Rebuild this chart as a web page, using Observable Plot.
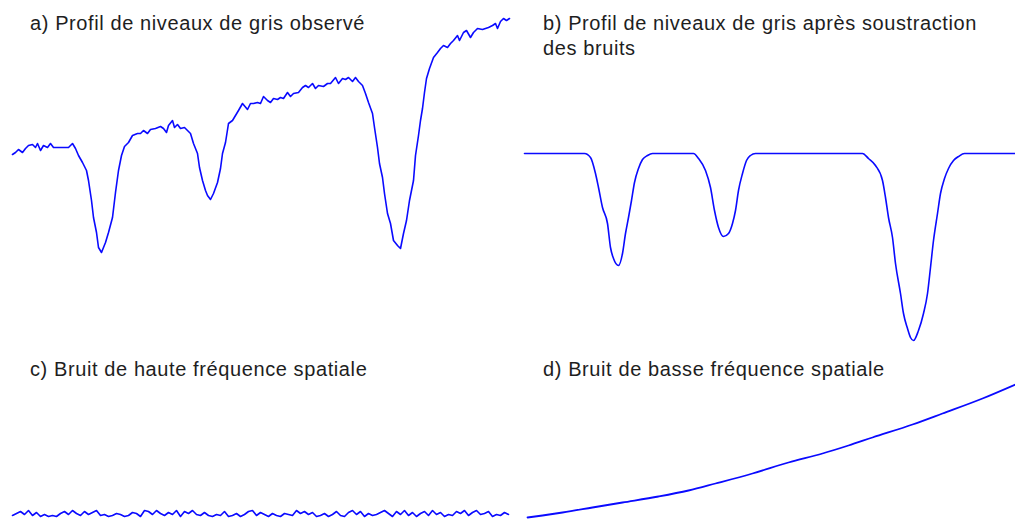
<!DOCTYPE html>
<html>
<head>
<meta charset="utf-8">
<script src="https://cdn.jsdelivr.net/npm/d3@7"></script>
<script src="https://cdn.jsdelivr.net/npm/@observablehq/plot@0.6"></script>
<style>
  html, body { margin: 0; padding: 0; background: #fff; }
  #wrap { position: relative; width: 1015px; height: 519px; overflow: hidden; }
  .panel { position: absolute; }
  .panel svg { overflow: visible; display: block; }
  .title { position: absolute; font-family: "Liberation Sans", Arial, sans-serif; font-size: 20px;
           letter-spacing: 0.6px; line-height: 25px; color: #1e1e1e; white-space: pre; }
</style>
</head>
<body>
<div id="wrap"></div>
<script>
// ---- Titles ----
const titles = [
  "a) Profil de niveaux de gris observé",
  "b) Profil de niveaux de gris après soustraction\ndes bruits",
  "c) Bruit de haute fréquence spatiale",
  "d) Bruit de basse fréquence spatiale"
];

// ---- a) observed grey-level profile: [position (px), grey level] ----
const profilObserve = [
  [0,106],[3,108],[6,111],[10,108],[13,112],[16,115],[20,116],[23,113],[25,117],[28,110],
  [31,115],[35,113],[38,117],[41,113],[46,113],[51,113],[56,113],[60,117],[63,112],[66,105],
  [70,98],[74,90],[76,80],[79,60],[81,43],[84,28],[86,13],[89,8],[93,18],[96,28],
  [100,43],[103,68],[106,90],[109,105],[112,114],[116,118],[120,125],[125,127],[128,127],[131,130],
  [135,127],[138,131],[143,132],[148,134],[151,132],[154,128],[156,135],[160,140],[162,133],[165,136],
  [168,132],[172,133],[175,130],[178,127],[181,117],[185,107],[187,93],[190,80],[193,70],[195,65],
  [198,61],[201,67],[205,78],[208,92],[210,107],[213,118],[216,137],[220,140],[223,145],[226,150],
  [230,157],[235,151],[238,157],[241,157],[245,158],[248,157],[251,164],[255,160],[258,158],[261,162],
  [265,161],[268,163],[271,162],[275,168],[278,164],[281,167],[286,168],[290,173],[293,175],[296,173],
  [300,177],[303,172],[306,175],[311,174],[315,177],[318,177],[323,183],[326,177],[330,182],[333,181],
  [336,183],[340,179],[343,183],[346,179],[350,175],[353,167],[356,158],[360,147],[362,133],[365,113],
  [367,97],[370,83],[372,67],[375,47],[378,37],[381,20],[385,15],[388,12],[391,27],[394,40],
  [397,60],[401,80],[403,105],[406,125],[408,140],[410,152],[412,168],[414,182],[417,192],[421,203],
  [425,208],[428,212],[431,215],[435,213],[438,217],[441,220],[445,225],[447,220],[451,228],[454,230],
  [458,223],[461,228],[465,232],[470,231],[473,232],[476,233],[480,235],[483,237],[485,232],[488,239],
  [491,242],[494,240],[497,242]
];

// ---- b) profile after noise subtraction: [position, grey level] ----
const profilCorrige = [
  [0,197],[60,197],[66,193],[71,177],[74,163],[78,143],[83,127],[86,103],[89,92],[94,85],
  [98,97],[101,117],[104,133],[107,150],[110,168],[114,182],[118,191],[123,195],[128,197],[169,197],
  [174,192],[181,180],[186,163],[190,140],[194,123],[199,114],[204,117],[208,127],[211,140],[214,160],
  [218,177],[222,190],[226,195],[231,197],[338,197],[344,192],[351,185],[358,170],[361,153],[364,133],
  [368,113],[371,87],[376,57],[379,37],[383,22],[386,13],[389,10],[394,20],[399,37],[403,57],
  [406,83],[409,110],[413,137],[416,157],[420,172],[424,182],[429,190],[434,194],[440,197],[491,197]
];

// ---- c) high spatial-frequency noise: one grey-level deviation every 4 px ----
const pasBruitHF = 4;
const bruitHF = [
  -1,1,3,0,4,-1,2,-2,0,-2,-1,-2,1,3,0,4,1,-1,3,0,
  2,4,-1,0,-2,-1,1,0,-2,-1,2,1,-2,4,3,0,4,1,-1,2,
  0,4,-2,3,1,4,0,-1,2,-1,-2,0,-1,3,-2,-1,1,-2,0,3,
  4,-1,2,0,-2,1,-1,-2,1,0,-1,4,1,3,0,2,-2,-1,1,-2,
  0,3,-1,-2,2,4,0,3,-2,1,-1,0,2,4,1,-2,3,0,4,-1,
  2,-2,1,3,-1,4,0,2,-2,0,-1,3,1,4,-1,2,4,0,1,3,
  -2,0,-1,2,0
];

// ---- d) low spatial-frequency noise: [position, grey level] ----
const bruitBF = [
  [0,0],[15,2],[35,5],[65,10],[95,15],[131,21],[161,27],[188,34],[225,44],[261,55],
  [295,64],[321,72],[345,80],[385,93],[415,104],[455,119],[488,133]
];

const lineColor = "#0a0aff";
const wrap = document.getElementById("wrap");

function addPanel(opts, left, top, marks) {
  const chart = Plot.plot({
    width: opts.width, height: opts.height,
    margin: 0, marginTop: 0, marginRight: 0, marginBottom: 0, marginLeft: 0,
    x: {domain: opts.xDomain, axis: null},
    y: {domain: opts.yDomain, axis: null},
    style: {background: "transparent", overflow: "visible"},
    marks
  });
  const div = document.createElement("div");
  div.className = "panel";
  div.style.left = left + "px";
  div.style.top = top + "px";
  div.appendChild(chart);
  wrap.appendChild(div);
}

// a)
addPanel({width: 515, height: 260, xDomain: [-12, 503], yDomain: [0, 260]}, 0, 0, [
  Plot.line(profilObserve, {x: d => d[0], y: d => d[1], stroke: lineColor, strokeWidth: 1.6})
]);
// b)
addPanel({width: 491, height: 350, xDomain: [0, 491], yDomain: [0, 350]}, 524, 0, [
  Plot.line(profilCorrige, {x: d => d[0], y: d => d[1], stroke: lineColor, strokeWidth: 1.6, curve: "monotone-x"})
]);
// c)
addPanel({width: 515, height: 159, xDomain: [-12, 503], yDomain: [-5, 154]}, 0, 360, [
  Plot.line(bruitHF, {x: (d, i) => i * pasBruitHF, y: d => d, stroke: lineColor, strokeWidth: 1.6})
]);
// d)
addPanel({width: 488, height: 159, xDomain: [0, 488], yDomain: [-2, 157]}, 527, 360, [
  Plot.line(bruitBF, {x: d => d[0], y: d => d[1], stroke: lineColor, strokeWidth: 1.8, curve: "monotone-x"})
]);

// titles
const titlePos = [[30, 11], [543, 11], [30, 357], [543, 357]];
titles.forEach((t, i) => {
  const el = document.createElement("div");
  el.className = "title";
  el.style.left = titlePos[i][0] + "px";
  el.style.top = titlePos[i][1] + "px";
  el.textContent = t;
  wrap.appendChild(el);
});
</script>
</body>
</html>
